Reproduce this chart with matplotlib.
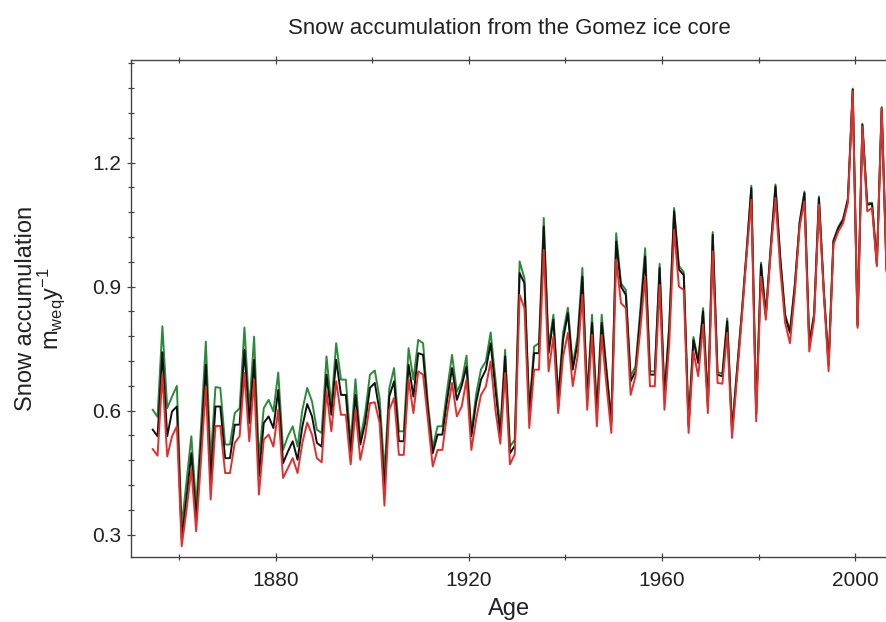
import numpy as np
import matplotlib
matplotlib.use("Agg")
import matplotlib.pyplot as plt
from matplotlib import font_manager
from matplotlib.ticker import FixedLocator, MultipleLocator

# ---------------- data ----------------
years = np.arange(1854.5, 2007.0, 1.0)

green = [
    .602, .585, .804, .606, .634, .660, .320, .430, .538, .368,
    .560, .767, .480, .657, .655, .518, .518, .594, .606, .801,
    .602, .779, .481, .606, .626, .598, .692, .505, .538, .562,
    .513, .602, .655, .622, .554, .546, .731, .610, .763, .675,
    .675, .520, .676, .530, .594, .687, .697, .630, .450, .654,
    .703, .550, .550, .751, .675, .771, .763, .618, .510, .562,
    .562, .651, .735, .646, .670, .733, .546, .640, .700, .719,
    .789, .675, .555, .747, .513, .530, .961, .920, .602, .755,
    .763, 1.066, .755, .832, .634, .788, .849, .710, .779, .945,
    .635, .832, .602, .832, .700, .578, 1.029, .908, .892, .683,
    .707, .844, .993, .695, .695, .955, .640, .810, 1.090, .950,
    .935, .570, .778, .722, .848, .618, 1.032, .693, .690, .823,
    .556, .696, .836, .986, 1.144, .596, .958, .835, .995, 1.147,
    .970, .833, .793, .905, 1.057, 1.130, .764, .834, 1.118, .894,
    .714, 1.012, 1.044, 1.064, 1.113, 1.379, .808, 1.294, 1.101, 1.103,
    .956, 1.334, .943,
]

black = [
    .554, .538, .741, .538, .598, .610, .290, .390, .497, .336,
    .520, .711, .433, .610, .610, .485, .485, .566, .566, .747,
    .570, .723, .441, .570, .586, .558, .650, .473, .501, .526,
    .481, .562, .616, .586, .522, .513, .687, .590, .723, .638,
    .638, .500, .638, .518, .570, .655, .667, .598, .410, .634,
    .671, .526, .526, .711, .634, .739, .735, .602, .497, .542,
    .542, .627, .703, .626, .660, .707, .538, .620, .675, .699,
    .763, .650, .540, .731, .497, .515, .933, .908, .594, .739,
    .739, 1.045, .739, .820, .626, .771, .836, .699, .763, .924,
    .625, .812, .594, .812, .690, .570, 1.009, .900, .880, .671,
    .695, .828, .973, .687, .687, .945, .630, .800, 1.082, .941,
    .928, .562, .771, .715, .840, .610, 1.025, .687, .683, .816,
    .550, .690, .830, .980, 1.138, .590, .953, .830, .990, 1.142,
    .965, .828, .788, .900, 1.053, 1.126, .760, .830, 1.114, .890,
    .710, 1.009, 1.041, 1.061, 1.110, 1.376, .805, 1.291, 1.098, 1.100,
    .953, 1.331, .940,
]

red = [
    .507, .491, .687, .489, .538, .562, .272, .360, .457, .308,
    .480, .658, .385, .563, .563, .449, .449, .522, .538, .691,
    .526, .675, .397, .530, .542, .513, .602, .437, .461, .485,
    .449, .522, .571, .542, .485, .475, .646, .550, .671, .590,
    .590, .470, .602, .481, .538, .618, .620, .570, .370, .602,
    .631, .493, .493, .675, .594, .695, .687, .578, .465, .505,
    .505, .594, .667, .586, .610, .675, .505, .580, .638, .658,
    .719, .600, .520, .691, .470, .495, .880, .848, .558, .699,
    .699, .989, .695, .779, .594, .731, .788, .659, .731, .880,
    .602, .783, .562, .783, .660, .546, .965, .860, .848, .638,
    .683, .796, .924, .659, .659, .904, .602, .763, 1.037, .900,
    .892, .546, .743, .683, .808, .594, .985, .667, .665, .788,
    .534, .675, .820, .973, 1.110, .574, .924, .820, .981, 1.114,
    .941, .812, .763, .884, 1.045, 1.106, .743, .820, 1.098, .884,
    .695, 1.001, 1.033, 1.053, 1.102, 1.372, .800, 1.287, 1.082, 1.090,
    .949, 1.331, .936,
]

y_ticks = [0.3, 0.6, 0.9, 1.2]
y_tick_labels = ["0.3", "0.6", "0.9", "1.2"]
x_ticks = [1880, 1920, 1960, 2000]
x_tick_labels = ["1880", "1920", "1960", "2000"]

assert len(years) == len(green) == len(black) == len(red)

# ---------------- fonts ----------------
names = {f.name for f in font_manager.fontManager.ttflist}
family = "Liberation Sans Narrow" if "Liberation Sans Narrow" in names else "Liberation Sans"
plt.rcParams["font.family"] = [family, "DejaVu Sans"]
plt.rcParams["mathtext.fontset"] = "custom"
plt.rcParams["mathtext.rm"] = family
plt.rcParams["mathtext.it"] = family

# ---------------- figure ----------------
fig = plt.figure(figsize=(8.87, 6.22), dpi=100)
ax = fig.add_axes([131 / 887, (622 - 557) / 622, (887 - 131) / 887, (557 - 60) / 622])

ax.plot(years, green, color="#2b8a3a", lw=1.4, zorder=2)
ax.plot(years, black, color="#111111", lw=1.4, zorder=3)
ax.plot(years, red, color="#e0302e", lw=1.4, zorder=4)

ax.set_xlim(1850, 2006.6)
ax.set_ylim(0.246, 1.448)

ax.xaxis.set_major_locator(FixedLocator(x_ticks))
ax.set_xticklabels(x_tick_labels)
ax.xaxis.set_minor_locator(FixedLocator([1860, 1900, 1940, 1980]))
ax.yaxis.set_major_locator(FixedLocator(y_ticks))
ax.set_yticklabels(y_tick_labels)
ax.yaxis.set_minor_locator(MultipleLocator(0.06))

for s in ax.spines.values():
    s.set_color("#444444")
    s.set_linewidth(1.0)
ax.spines["right"].set_visible(False)

ax.tick_params(which="both", direction="inout", top=True, right=False,
               color="#444444", width=0.9, labelsize=15, labelcolor="#222222")
ax.tick_params(which="major", length=6)
ax.tick_params(which="minor", length=4.5)
ax.tick_params(axis="x", which="major", pad=7)
ax.tick_params(axis="y", which="major", pad=4)

ax.set_title("Snow accumulation from the Gomez ice core", fontsize=16,
             color="#222222", pad=19)
ax.set_xlabel("Age", fontsize=17, color="#222222", labelpad=6)
ax.set_ylabel("Snow accumulation\n$\\mathregular{m_{weq}y^{-1}}$",
              fontsize=17, color="#222222", labelpad=18, linespacing=0.95)

fig.savefig("out.png", dpi=100)
